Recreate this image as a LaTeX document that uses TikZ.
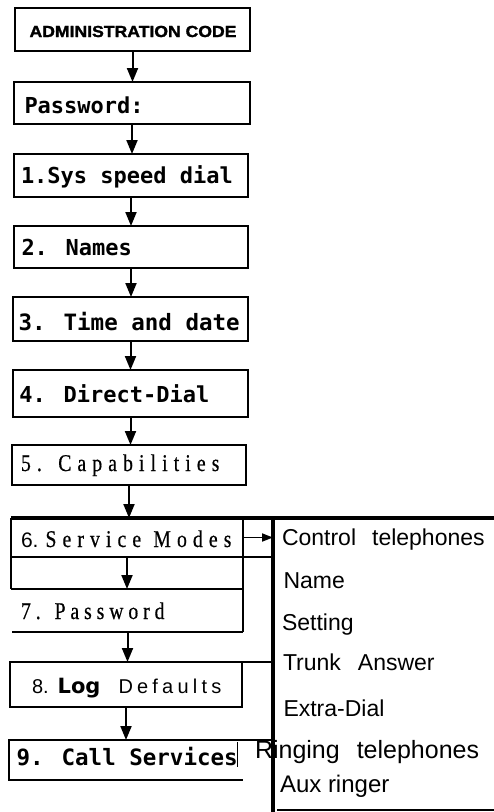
\documentclass[tikz,border=0pt]{standalone}
\usepackage{fontspec}
\usepackage{graphicx}
\usetikzlibrary{arrows.meta}
\setmainfont{Liberation Sans}
\newfontfamily\monof{DejaVu Sans Mono}
\newfontfamily\dvs{DejaVu Sans}
\newfontfamily\adminf[FakeBold=1.5]{Liberation Sans Bold}
\newfontfamily\serfA[LetterSpace=31,FakeBold=0.6]{Liberation Serif}
\newfontfamily\serfC[LetterSpace=25,FakeBold=0.6]{Liberation Serif}
\newfontfamily\sansls[LetterSpace=21]{Liberation Sans}
\newcommand{\myfs}[1]{\fontsize{#1}{#1}\selectfont}
\tikzset{
  box/.style={draw, line width=2pt, inner sep=0pt, outer sep=0pt},
  frame/.style={draw=none, inner sep=0pt, outer sep=0pt},
  txt/.style={inner sep=0pt, outer sep=0pt, anchor=base west},
  arr/.style={line width=2pt, -{Triangle[length=14pt,width=11pt]}},
  sarr/.style={line width=1.8pt, -{Triangle[length=11pt,width=8pt]}},
  heavy/.style={line width=3.5pt},
  mono/.style={font=\monof\bfseries\myfs{22pt}},
  side/.style={font=\myfs{23pt}}
}
\begin{document}
\begin{tikzpicture}[x=1pt,y=-1pt]
\useasboundingbox (0,0) rectangle (494,812);
% boxes
\node[box, minimum width=235pt, minimum height=43pt] (A) at (132.5,29.5) {};
\node[box, minimum width=236pt, minimum height=42pt] (P) at (132,103) {};
\node[box, minimum width=234pt, minimum height=43pt] (S1) at (131,175.5) {};
\node[box, minimum width=234pt, minimum height=42pt] (N2) at (131,247) {};
\node[box, minimum width=235pt, minimum height=44pt] (T3) at (130.5,319) {};
\node[box, minimum width=235pt, minimum height=47pt] (D4) at (130.5,393.5) {};
\node[box, minimum width=234pt, minimum height=40pt] (C5) at (129,465) {};
\node[frame, minimum width=232pt, minimum height=39pt] (SM6) at (127,537.5) {};
\node[frame, minimum width=232pt, minimum height=32pt] (B) at (127,573) {};
\node[frame, minimum width=231pt, minimum height=43pt] (P7) at (127.5,610.5) {};
\node[box, minimum width=232pt, minimum height=45pt] (L8) at (126,684.5) {};
\node[frame, minimum width=234pt, minimum height=40pt] (C9) at (126,760) {};
\node[frame, minimum width=221pt, minimum height=292pt] (panel) at (383.5,664) {};
\coordinate (pbot) at (273,812);
% texts in boxes
\node[txt, anchor=base] (tA) at (133,37) {\adminf\myfs{16pt}\scalebox{1.1}[1]{ADMINISTRATION CODE}};
\node[txt, mono] (tP) at (24.5,113) {Password:};
\node[txt, mono] (tS1) at (21,183) {1.Sys speed dial};
\node[txt, mono] (tN2) at (21.5,255) {2. Names};
\node[txt, mono, font=\monof\bfseries\myfs{22.5pt}] (tT3) at (18.5,330) {3. Time and date};
\node[txt, mono] (tD4) at (19.5,402) {4. Direct-Dial};
\node[txt] (tC5) at (21,471) {\scalebox{0.82}[1]{\serfA\myfs{24pt}5.\hspace{20pt}Capabilities}};
\node[txt] (tSM6) at (21,547) {\myfs{21pt}6.\hspace{7pt}\scalebox{0.82}[1]{\serfA\myfs{24pt}Service\hspace{15pt}Modes}};
\node[txt] (tP7) at (21,619) {\scalebox{0.82}[1]{\serfC\myfs{24pt}7.\hspace{17pt}Password}};
\node[txt] (tL8) at (32,693) {\myfs{20pt}8.\hspace{9pt}{\dvs\bfseries\myfs{21pt}Log}\hspace{18pt}{\sansls Defaults}};
\node[txt, mono, font=\monof\bfseries\myfs{22.5pt}] (tC9) at (16.5,765) {9. Call Services};
% side panel texts
\node[txt, side] (r1) at (282,545) {Control\hspace{16pt}telephones};
\node[txt, side] (r2) at (283.5,588) {Name};
\node[txt, side] (r3) at (282,630) {Setting};
\node[txt, side] (r4) at (283,670) {Trunk\hspace{17pt}Answer};
\node[txt, side] (r5) at (283.5,716) {Extra-Dial};
\node[txt, font=\myfs{25pt}] (r6) at (255,758) {Ringing\hspace{17pt}telephones};
\node[txt, font=\myfs{24pt}] (r7) at (280,792) {Aux ringer};
% arrows
\draw[arr] (A.south) -- (A.south |- P.north);
\draw[arr] (P.south) -- (P.south |- S1.north);
\draw[arr] (S1.south) -- (S1.south |- N2.north);
\draw[arr] (N2.south) -- (N2.south |- T3.north);
\draw[arr] (T3.south) -- (T3.south |- D4.north);
\draw[arr] (D4.south) -- (D4.south |- C5.north);
\draw[arr] (C5.south) -- (C5.south |- SM6.north);
\draw[arr] (B.north) -- (B.south);
\draw[arr] (P7.south) -- (P7.south |- L8.north);
\draw[arr] (L8.south) -- (L8.south |- C9.north);
\draw[sarr] (SM6.east) -- (SM6.east -| panel.west);
% frame lines
\draw[heavy] (SM6.north west) -- (panel.north east);
\draw[heavy] (panel.north west) -- (pbot);
\draw[line width=1.5pt] ([xshift=4pt]panel.south west) -- (panel.south east);
\draw[line width=2pt] (SM6.north west) -- (B.south west);
\draw[line width=1.5pt] (SM6.north east) -- (P7.south east);
\draw[line width=2.5pt] (SM6.south west) -- (SM6.south west -| panel.west);
\draw[line width=2.5pt] (B.south west) -- (B.south east);
\draw[line width=2.5pt] (P7.south west) -- (P7.south east);
\draw[line width=2pt] (L8.north east) -- (L8.north east -| panel.west);
\draw[line width=2pt] (C9.north east) -- (C9.north west) -- (C9.south west) -- (C9.south east);
\draw[line width=2pt] (C9.north east) -- (C9.north east -| panel.west);
\draw[line width=1pt] ([xshift=-6pt,yshift=-2pt]C9.north east) -- ([xshift=-6pt,yshift=-27pt]C9.north east);
\end{tikzpicture}
\end{document}
